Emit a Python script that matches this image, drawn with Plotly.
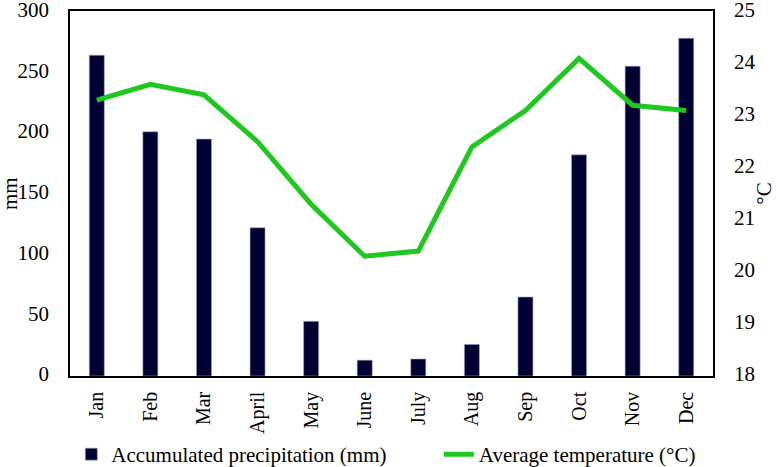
import plotly.graph_objects as go

months = ["Jan", "Feb", "Mar", "April", "May", "June", "July", "Aug", "Sep", "Oct", "Nov", "Dec"]
precip_mm = [264, 201, 195, 122, 45, 13, 14, 26, 65, 182, 255, 278]
temp_c = [23.3, 23.6, 23.4, 22.5, 21.3, 20.3, 20.4, 22.4, 23.1, 24.1, 23.2, 23.1]
mm_ticks = [0, 50, 100, 150, 200, 250, 300]
c_ticks = [18, 19, 20, 21, 22, 23, 24, 25]

font_family = "Liberation Serif"
fs = 21
pad = "\u00a0" * 9

fig = go.Figure()
fig.add_trace(go.Bar(
    x=months, y=precip_mm, name="Accumulated precipitation (mm)" + pad,
    marker=dict(color="#000033", line=dict(color="#9fa3c8", width=0.6)),
    width=0.28, yaxis="y",
))
fig.add_trace(go.Scatter(
    x=months, y=temp_c, name="Average temperature (°C)", mode="lines",
    line=dict(color="#1ec81e", width=5), yaxis="y2",
))

fig.update_layout(
    width=776, height=467,
    margin=dict(l=70, r=63, t=11, b=91, autoexpand=False),
    paper_bgcolor="white", plot_bgcolor="white",
    font=dict(family=font_family, size=fs, color="black"),
    showlegend=True,
    legend=dict(orientation="h", x=0.002, xanchor="left", y=-0.215, yanchor="middle",
                font=dict(family=font_family, size=fs), tracegroupgap=0,
                bgcolor="rgba(0,0,0,0)"),
    xaxis=dict(tickangle=-90, showline=True, linecolor="black", linewidth=1.5,
               mirror=True, ticks="", showgrid=False, automargin=False,
               ticklabelstandoff=6,
               tickfont=dict(family=font_family, size=20)),
    yaxis=dict(range=[0, 300.4], tickvals=mm_ticks, showline=True, linecolor="black", linewidth=1.5,
               ticks="", showgrid=False, zeroline=False, automargin=False,
               ticklabelstandoff=15, ticklabeloverflow="allow", ticklabelshift=-2,
               tickfont=dict(family=font_family, size=fs)),
    yaxis2=dict(range=[18, 25.01], tickvals=c_ticks, overlaying="y", side="right", showline=True,
                linecolor="black", linewidth=1.5, ticks="", showgrid=False, zeroline=False,
                automargin=False, ticklabelstandoff=15, ticklabeloverflow="allow", ticklabelshift=-2,
                tickfont=dict(family=font_family, size=fs),
                title=dict(text="°C", standoff=8, font=dict(family=font_family, size=fs))),
    annotations=[dict(text="mm", xref="paper", yref="paper", x=-0.094, y=0.5,
                      xanchor="center", yanchor="middle", textangle=-90, showarrow=False,
                      font=dict(family=font_family, size=fs))],
)

fig.write_html("out.html")
